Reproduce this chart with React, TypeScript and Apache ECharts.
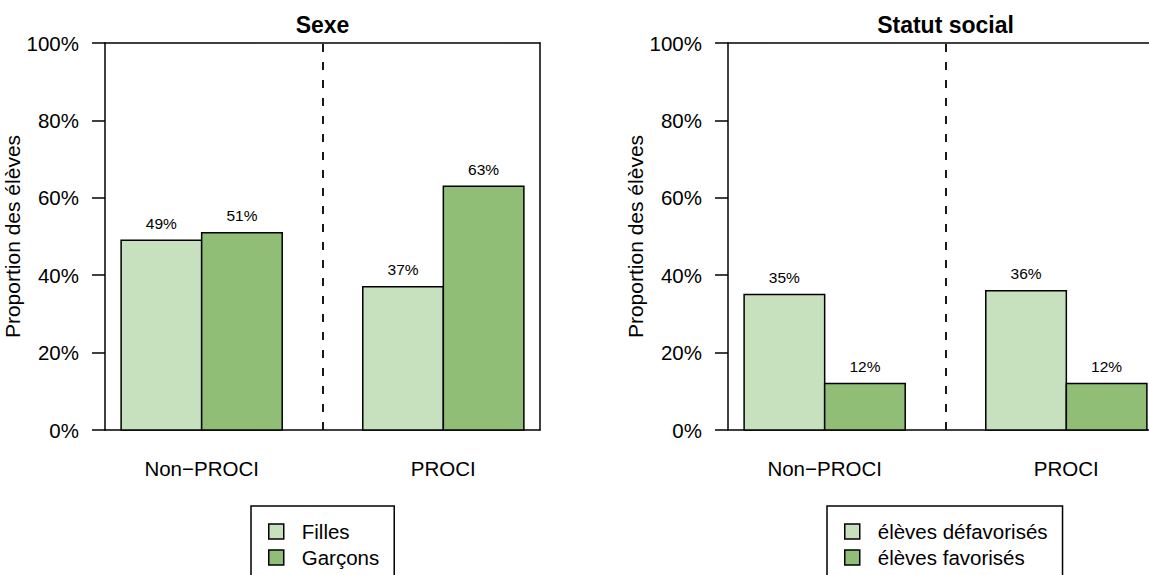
import React, { useEffect, useRef } from "react";
import * as echarts from "echarts";

// ---- data ----
const groupLabels = ["Non\u2212PROCI", "PROCI"];
const panelTitles = ["Sexe", "Statut social"];
const yAxisTitle = "Proportion des élèves";
const sexeNames = ["Filles", "Garçons"];
const sexeFilles = [49, 37];
const sexeGarcons = [51, 63];
const socialNames = ["élèves défavorisés", "élèves favorisés"];
const socialDefavorises = [35, 36];
const socialFavorises = [12, 12];

// ---- style ----
const FONT = "'Liberation Sans', Arial, Helvetica, sans-serif";
const COLORS = ["#C7E0BD", "#91BE77"];
const GRID_LEFT = [105, 728];
const GRID_TOP = 43;
const GRID_W = 435;
const GRID_H = 387;
const LEGEND_LEFT = [251, 827];

export default function App() {
  const ref = useRef<HTMLDivElement>(null);

  useEffect(() => {
    if (!ref.current) return;
    const chart = echarts.init(ref.current, undefined, { renderer: "svg" });

    const panels = [
      { names: sexeNames, values: [sexeFilles, sexeGarcons] },
      { names: socialNames, values: [socialDefavorises, socialFavorises] },
    ];

    const grid: any[] = [];
    const xAxis: any[] = [];
    const yAxis: any[] = [];
    const series: any[] = [];
    const legend: any[] = [];
    const title: any[] = [];

    panels.forEach((panel, p) => {
      grid.push({
        left: GRID_LEFT[p],
        top: GRID_TOP,
        width: GRID_W,
        height: GRID_H,
        containLabel: false,
      });
      title.push({
        text: panelTitles[p],
        left: GRID_LEFT[p] + GRID_W / 2,
        top: 13,
        textAlign: "center",
        padding: 0,
        textStyle: { fontSize: 23, fontWeight: "bold", color: "#000", fontFamily: FONT },
      });
      // bottom x axis
      xAxis.push({
        type: "value",
        gridIndex: p,
        min: 0.8,
        max: 6.2,
        position: "bottom",
        splitLine: { show: false },
        axisTick: { show: false },
        axisLine: { show: true, onZero: false, lineStyle: { color: "#000", width: 1.5 } },
        axisLabel: {
          customValues: groupLabels.map((_, g) => 2 + 3 * g),
          formatter: (v: number) => groupLabels[Math.round((v - 2) / 3)] ?? "",
          color: "#000",
          fontSize: 20.5,
          fontFamily: FONT,
          margin: 28,
        },
      });
      // top x axis (box)
      xAxis.push({
        type: "value",
        gridIndex: p,
        min: 0.8,
        max: 6.2,
        position: "top",
        splitLine: { show: false },
        axisTick: { show: false },
        axisLabel: { show: false },
        axisLine: { show: true, onZero: false, lineStyle: { color: "#000", width: 1.5 } },
      });
      // left y axis
      yAxis.push({
        type: "value",
        gridIndex: p,
        min: 0,
        max: 100,
        interval: 20,
        position: "left",
        name: yAxisTitle,
        nameLocation: "middle",
        nameGap: 66,
        nameTextStyle: { fontSize: 21, color: "#000", fontFamily: FONT },
        splitLine: { show: false },
        axisLine: { show: true, onZero: false, lineStyle: { color: "#000", width: 1.5 } },
        axisTick: { show: true, inside: false, length: 13, lineStyle: { color: "#000", width: 1.5 } },
        axisLabel: {
          formatter: "{value}%",
          color: "#000",
          fontSize: 20.5,
          fontFamily: FONT,
          margin: 26,
        },
      });
      // right y axis (box)
      yAxis.push({
        type: "value",
        gridIndex: p,
        min: 0,
        max: 100,
        position: "right",
        splitLine: { show: false },
        axisTick: { show: false },
        axisLabel: { show: false },
        axisLine: { show: true, onZero: false, lineStyle: { color: "#000", width: 1.5 } },
      });

      panel.names.forEach((name, k) => {
        const color = COLORS[k];
        series.push({
          type: "custom",
          name,
          xAxisIndex: 2 * p,
          yAxisIndex: 2 * p,
          itemStyle: { color },
          data: panel.values[k].map((v, g) => [g, v]),
          renderItem: (_params: any, api: any) => {
            const g = api.value(0);
            const v = api.value(1);
            const x0 = 1 + g * 3 + k;
            const p0 = api.coord([x0, 0]);
            const p1 = api.coord([x0 + 1, v]);
            return {
              type: "group",
              children: [
                {
                  type: "rect",
                  shape: { x: p0[0], y: p1[1], width: p1[0] - p0[0], height: p0[1] - p1[1] },
                  style: { fill: color, stroke: "#000", lineWidth: 1.5 },
                },
                {
                  type: "text",
                  x: (p0[0] + p1[0]) / 2,
                  y: p1[1] - 17,
                  style: {
                    text: `${v}%`,
                    fill: "#000",
                    fontSize: 15.5,
                    fontFamily: FONT,
                    align: "center",
                    verticalAlign: "middle",
                  },
                },
              ],
            };
          },
        });
      });

      // dashed separator between groups
      series.push({
        type: "line",
        xAxisIndex: 2 * p,
        yAxisIndex: 2 * p,
        data: [],
        silent: true,
        markLine: {
          silent: true,
          symbol: ["none", "none"],
          label: { show: false },
          lineStyle: { color: "#000", type: [8, 10], width: 1.8 },
          data: [{ xAxis: 3.5 }],
        },
      });

      legend.push({
        data: panel.names,
        orient: "vertical",
        left: LEGEND_LEFT[p],
        top: 506,
        height: 60,
        icon: "rect",
        itemWidth: 15,
        itemHeight: 15,
        itemGap: 5,
        borderColor: "#000",
        borderWidth: 1.5,
        borderRadius: 0,
        padding: [15, 15, 30, 17],
        itemStyle: { borderColor: "#000", borderWidth: 1.5 },
        textStyle: { fontSize: 20.5, color: "#000", fontFamily: FONT, padding: [0, 0, 0, 13] },
        selectedMode: false,
      });
    });

    chart.setOption({
      animation: false,
      backgroundColor: "#fff",
      textStyle: { fontFamily: FONT },
      title,
      grid,
      xAxis,
      yAxis,
      legend,
      series,
    });

    return () => chart.dispose();
  }, []);

  return (
    <div style={{ position: "absolute", left: 0, top: 0, width: 1149, height: 575, overflow: "hidden" }}>
      <div ref={ref} style={{ width: 1200, height: 640 }} />
    </div>
  );
}
